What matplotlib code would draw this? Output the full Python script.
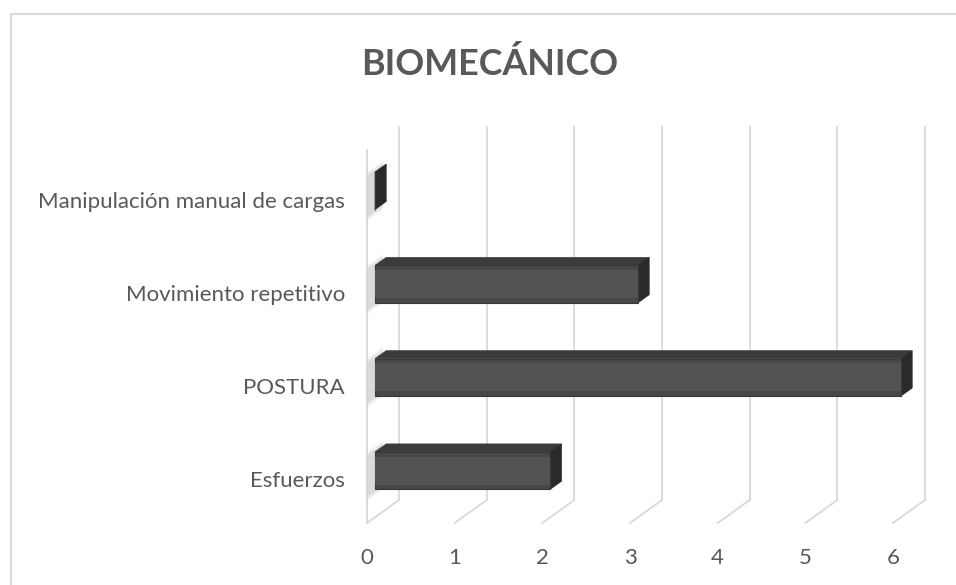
import matplotlib
matplotlib.use("Agg")
import matplotlib.pyplot as plt
import matplotlib.transforms as mtransforms
from matplotlib.patches import Polygon, Rectangle

categories = ["Esfuerzos", "POSTURA", "Movimiento repetitivo", "Manipulación manual de cargas"]
values = [2, 6, 3, 0]
xticks = [0, 1, 2, 3, 4, 5, 6]
title = "BIOMECÁNICO"

W, H = 956, 585
fig = plt.figure(figsize=(W / 100, H / 100), dpi=100)
plt.rcParams['font.family'] = ['Lato', 'DejaVu Sans']

# front plane pixels
x0px, x6px = 367, 893
ybot, ytop = 523, 150
ax = fig.add_axes([x0px / W, 1 - ybot / H, (x6px - x0px) / W, (ybot - ytop) / H])
ax.set_xlim(0, 6)
ax.set_ylim(-0.5, 3.5)
for s in ax.spines.values():
    s.set_visible(False)

unit_x = (x6px - x0px) / 6.0
unit_y = (ybot - ytop) / 4.0
dx = 32 / unit_x
dy = 23 / unit_y

grid_c = "#d9d9d9"
glw = 1.3
for v in xticks:
    ax.plot([v + dx, v + dx], [-0.5 + dy, 3.5 + dy], color=grid_c, lw=glw, clip_on=False, zorder=1)
    ax.plot([v, v + dx], [-0.5, -0.5 + dy], color=grid_c, lw=glw, clip_on=False, zorder=1)
ax.plot([0, 0], [-0.5, 3.5], color=grid_c, lw=glw, clip_on=False, zorder=1)

t0, t1 = 0.25, 0.6
bh = 0.2
for i, (c, v) in enumerate(zip(categories, values)):
    fx0 = t0 * dx
    fx1 = v + t0 * dx
    fy0 = i - bh + t0 * dy
    fy1 = i + bh + t0 * dy
    ddx = (t1 - t0) * dx
    ddy = (t1 - t0) * dy
    # soft shadow on left wall
    for k, a in enumerate([0.25, 0.35, 0.5]):
        e = 0.06 - k * 0.02
        ax.add_patch(Polygon([(0, i - bh - e), (0.0, i + bh + e), (dx * 0.5, i + bh + dy * 0.5 + e),
                              (dx * 0.5, i - bh + dy * 0.5 - e)], closed=True, facecolor="#d0d0d0",
                             edgecolor="none", alpha=a, zorder=2, clip_on=False))
    # top face
    ax.add_patch(Polygon([(fx0, fy1), (fx1, fy1), (fx1 + ddx, fy1 + ddy), (fx0 + ddx, fy1 + ddy)],
                         closed=True, facecolor="#3b3b3b", edgecolor="#3b3b3b", lw=0.5,
                         zorder=3, clip_on=False))
    # side face
    ax.add_patch(Polygon([(fx1, fy0), (fx1, fy1), (fx1 + ddx, fy1 + ddy), (fx1 + ddx, fy0 + ddy)],
                         closed=True, facecolor="#2a2a2a", edgecolor="#2a2a2a", lw=0.5,
                         zorder=3, clip_on=False))
    # front face
    ax.add_patch(Rectangle((fx0, fy0), fx1 - fx0, fy1 - fy0, facecolor="#474747",
                           edgecolor="#383838", lw=0.8, zorder=4, clip_on=False))
    ax.add_patch(Rectangle((fx0, fy0 + 0.05), fx1 - fx0, (fy1 - fy0) - 0.1, facecolor="#535353",
                           edgecolor="none", zorder=4, clip_on=False))

ax.set_yticks(range(len(categories)))
ax.set_yticklabels(categories, fontsize=16, color="#595959")
ax.set_xticks(xticks)
ax.set_xticklabels([str(t) for t in xticks], fontsize=16, color="#595959")
ax.tick_params(axis="y", length=0, pad=16)
ax.tick_params(axis="x", length=0, pad=18)
shift = mtransforms.ScaledTranslation(0, -3 / 100, fig.dpi_scale_trans)
for lab in ax.get_yticklabels():
    lab.set_transform(lab.get_transform() + shift)

fig.text(490 / W, 1 - 64 / H, title, ha="center", va="center", fontsize=25.8,
         fontweight="bold", color="#595959")

fig.patches.append(Rectangle((11 / W, -0.1), 1.2, 1 - 14 / H + 0.1, transform=fig.transFigure,
                             facecolor="none", edgecolor="#d9d9d9", lw=1.5))

fig.savefig("out.png", dpi=100)
